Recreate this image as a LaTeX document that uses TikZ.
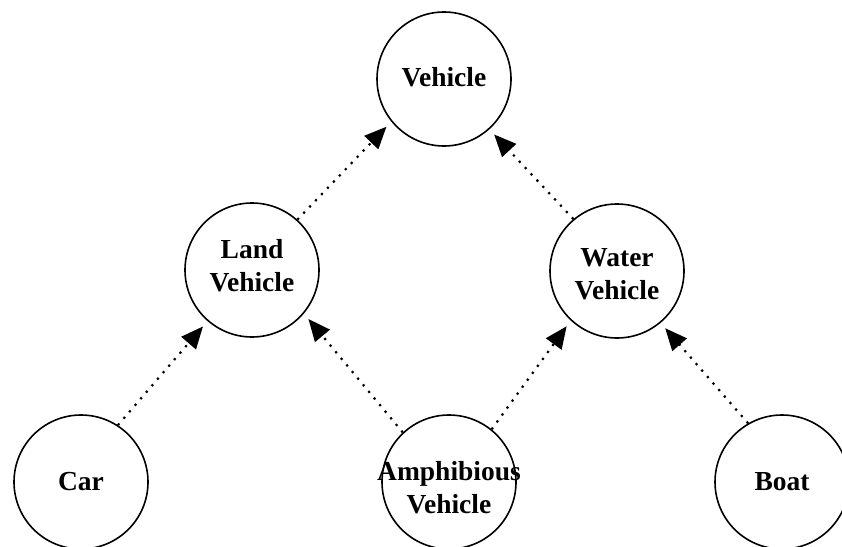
\documentclass[tikz,border=0pt]{standalone}
\usepackage{fontspec}
\setmainfont{Liberation Serif}
\usetikzlibrary{arrows.meta}
% centred zero-width line, optionally moved up or down without changing its box
\newcommand{\cw}[2][0pt]{\makebox[0pt]{\raisebox{#1}[\height][\depth]{#2}}}
\begin{document}
\begin{tikzpicture}[x=1pt,y=-1pt,
  cls/.style={circle,draw,line width=1.6pt,minimum size=134pt,inner sep=0pt,
    align=center,font=\fontsize{27.5}{33}\selectfont\bfseries},
  inherit/.style={line width=2.2pt,dash pattern=on 2.2pt off 6.4pt,
    -{Triangle[length=22pt,width=19pt]},shorten >=7pt}]
\useasboundingbox (0,0) rectangle (842,546);
% class nodes
\node[cls] (vehicle) at (444,79)  {\cw[2pt]{Vehicle}};
\node[cls] (land)    at (252,270) {\cw[4pt]{Land}\\\cw[4pt]{Vehicle}};
\node[cls] (water)   at (617,271) {\cw[-3pt]{Water}\\\cw[-3pt]{Vehicle}};
\node[cls] (car)     at (81,482)  {\cw{Car}};
\node[cls] (amph)    at (449,482) {\cw[-6pt]{Amphibious}\\\cw[-6pt]{Vehicle}};
\node[cls] (boat)    at (782,482) {\cw{Boat}};
% generalisation arrows
\draw[inherit] (land.48)   -- (vehicle.219);
\draw[inherit] (water.130) -- (vehicle.312);
\draw[inherit] (car.57)    -- (land.229);
\draw[inherit] (amph.133)  -- (land.320);
\draw[inherit] (amph.51)   -- (water.227);
\draw[inherit] (boat.120)  -- (water.310);
\end{tikzpicture}
\end{document}
